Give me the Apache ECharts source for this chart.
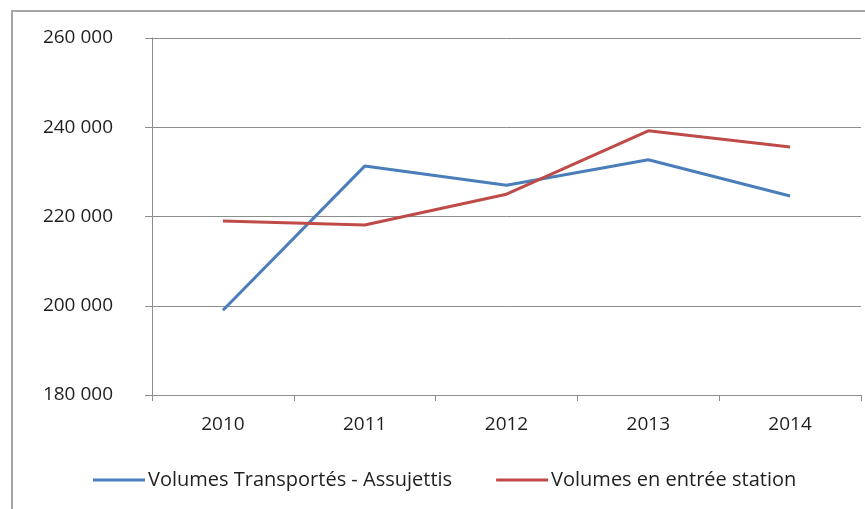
<!DOCTYPE html>
<html>
<head>
<meta charset="utf-8">
<script src="https://cdn.jsdelivr.net/npm/echarts@6/dist/echarts.min.js"></script>
<style>
  html, body { margin: 0; padding: 0; background: #fff; }
  #chart { width: 865px; height: 509px; }
</style>
</head>
<body>
<div id="chart"></div>
<script>
const years = ['2010', '2011', '2012', '2013', '2014']
const transportes = [199000, 231300, 227000, 232700, 224600]
const entreeStation = [219000, 218100, 225000, 239200, 235600]

const FONT = '"Open Sans", "Noto Sans", sans-serif'
const TEXT = '#1f1f1f'
const GRID = '#8c8c8c'

const chart = echarts.init(document.getElementById('chart'), null, { renderer: 'canvas' })

const fmt = v => String(v).replace(/\B(?=(\d{3})+(?!\d))/g, ' ')

chart.setOption({
  backgroundColor: '#fff',
  animation: false,
  graphic: [{
    type: 'rect',
    shape: { x: 12, y: 11, width: 880, height: 520 },
    style: { fill: 'none', stroke: '#a6a6a6', lineWidth: 2 },
    silent: true
  }],
  grid: { left: 152, right: 4, top: 38, bottom: 114, containLabel: false },
  legend: {
    bottom: 14,
    left: 88,
    itemWidth: 52,
    itemHeight: 3,
    itemGap: 44,
    icon: 'rect',
    textStyle: { color: TEXT, fontFamily: FONT, fontSize: 20, padding: [0, 0, 0, -2] },
    data: ['Volumes Transportés - Assujettis', 'Volumes en entrée station']
  },
  xAxis: {
    type: 'category',
    data: years,
    boundaryGap: true,
    axisLine: { lineStyle: { color: GRID, width: 1 } },
    axisTick: { show: true, length: 6, lineStyle: { color: GRID } },
    axisLabel: { color: TEXT, fontFamily: FONT, fontSize: 19, margin: 20 }
  },
  yAxis: {
    type: 'value',
    min: 180000,
    max: 260000,
    interval: 20000,
    axisLine: { show: true, lineStyle: { color: GRID, width: 1 } },
    axisTick: { show: true, length: 7, lineStyle: { color: GRID } },
    axisLabel: { color: TEXT, fontFamily: FONT, fontSize: 19, margin: 39, formatter: fmt },
    splitLine: { lineStyle: { color: GRID, width: 1 } }
  },
  series: [
    {
      name: 'Volumes Transportés - Assujettis',
      type: 'line',
      data: transportes,
      symbol: 'none',
      color: '#4a7ebb',
      lineStyle: { width: 3, color: '#4a7ebb' }
    },
    {
      name: 'Volumes en entrée station',
      type: 'line',
      data: entreeStation,
      symbol: 'none',
      color: '#be4b48',
      lineStyle: { width: 3, color: '#be4b48' }
    }
  ]
})

window.addEventListener('resize', () => chart.resize())
</script>
</body>
</html>
